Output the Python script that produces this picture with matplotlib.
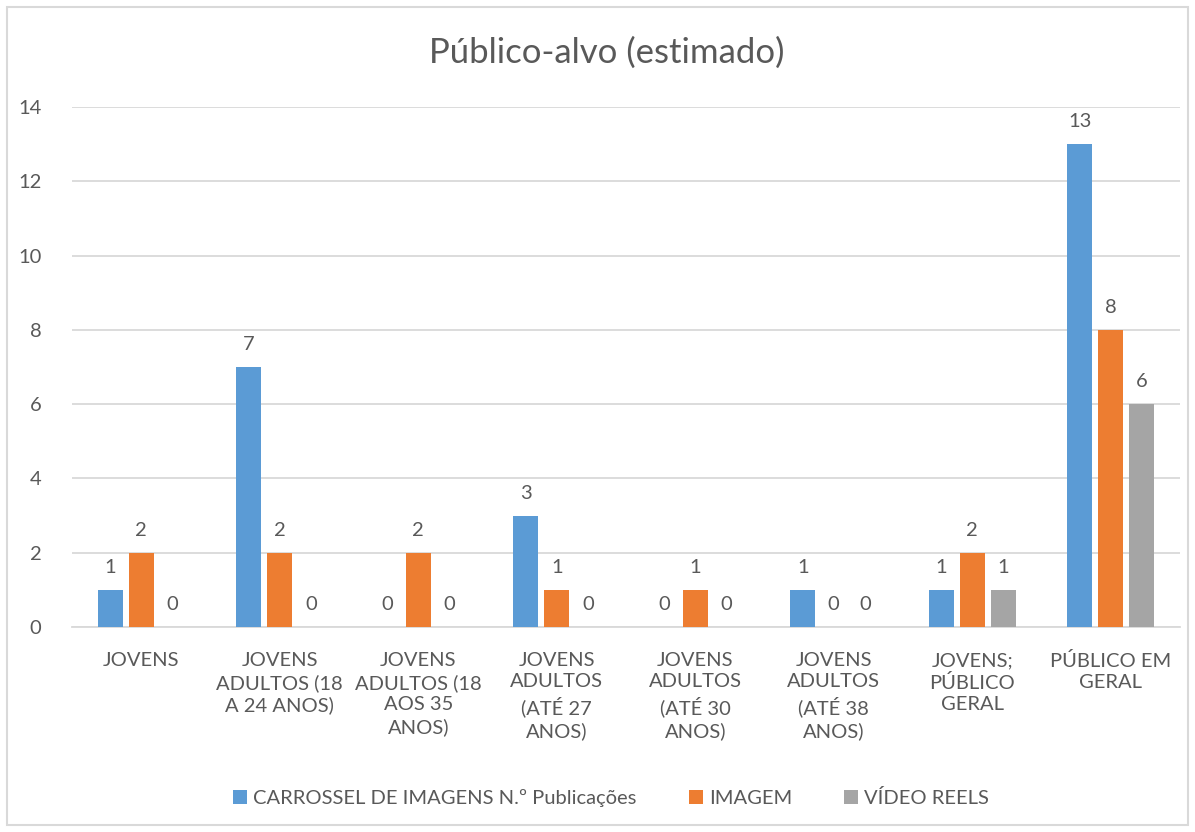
import matplotlib
matplotlib.use("Agg")
import matplotlib.pyplot as plt
from matplotlib.patches import Rectangle
import numpy as np

plt.rcParams['font.family'] = ['Lato', 'DejaVu Sans']

categories = ["JOVENS",
              "JOVENS\nADULTOS (18\nA 24 ANOS)",
              "JOVENS\nADULTOS (18\nAOS 35\nANOS)",
              "JOVENS\nADULTOS\n(ATÉ 27\nANOS)",
              "JOVENS\nADULTOS\n(ATÉ 30\nANOS)",
              "JOVENS\nADULTOS\n(ATÉ 38\nANOS)",
              "JOVENS;\nPÚBLICO\nGERAL",
              "PÚBLICO EM\nGERAL"]
carrossel = [1, 7, 0, 3, 0, 1, 1, 13]
imagem = [2, 2, 2, 1, 1, 0, 2, 8]
video = [0, 0, 0, 0, 0, 0, 1, 6]
series_names = ["CARROSSEL DE IMAGENS N.º Publicações", "IMAGEM", "VÍDEO REELS"]
colors = ["#5B9BD5", "#ED7D31", "#A5A5A5"]
yticks = [0, 2, 4, 6, 8, 10, 12, 14]

TXT = "#595959"
FS = 14.5
W, H = 1195, 832
fig = plt.figure(figsize=(W / 100, H / 100), dpi=100)
ax = fig.add_axes([72 / W, 1 - 627 / H, (1180 - 72) / W, (627 - 107) / H])

x = np.arange(len(categories))
pitch = 0.224
bw = 0.18
for i, (vals, name, c) in enumerate(zip([carrossel, imagem, video], series_names, colors)):
    pos = x + (i - 1) * pitch
    ax.bar(pos, vals, width=bw, color=c, label=name, zorder=3)
    for p, v in zip(pos, vals):
        ax.annotate(str(v), xy=(p, v), xytext=(0, 10), textcoords="offset points",
                    ha="center", va="bottom", fontsize=FS, color=TXT)

ax.set_xlim(-0.5, len(categories) - 0.5)
ax.set_ylim(0, 14)
ax.set_yticks(yticks)
ax.set_yticklabels([str(t) for t in yticks], fontsize=FS, color=TXT)
ax.set_xticks(x)
ax.set_xticklabels(categories, fontsize=FS, color=TXT, linespacing=1.32, va="top")
ax.tick_params(axis="both", length=0)
ax.tick_params(axis="y", pad=22)
ax.tick_params(axis="x", pad=18)
ax.grid(axis="y", color="#D9D9D9", linewidth=1.3, zorder=0)
for s in ["top", "right", "left"]:
    ax.spines[s].set_visible(False)
ax.spines["bottom"].set_color("#D9D9D9")
ax.spines["bottom"].set_linewidth(1.3)

fig.text(607 / W, 1 - 53 / H, "Público-alvo (estimado)", ha="center", va="center",
         fontsize=25, color=TXT)

leg = fig.legend(loc="center", bbox_to_anchor=(611 / W, 1 - 798 / H), ncol=3,
                 frameon=False, fontsize=FS, handlelength=0.7, handleheight=0.7,
                 handletextpad=0.3, columnspacing=2.6)
for t in leg.get_texts():
    t.set_color(TXT)

fig.patches.append(Rectangle((7 / W, 7 / H), (W - 14) / W, (H - 14) / H,
                             transform=fig.transFigure, fill=False,
                             edgecolor="#D9D9D9", linewidth=1.5))

fig.savefig("out.png", dpi=100, facecolor="white")
